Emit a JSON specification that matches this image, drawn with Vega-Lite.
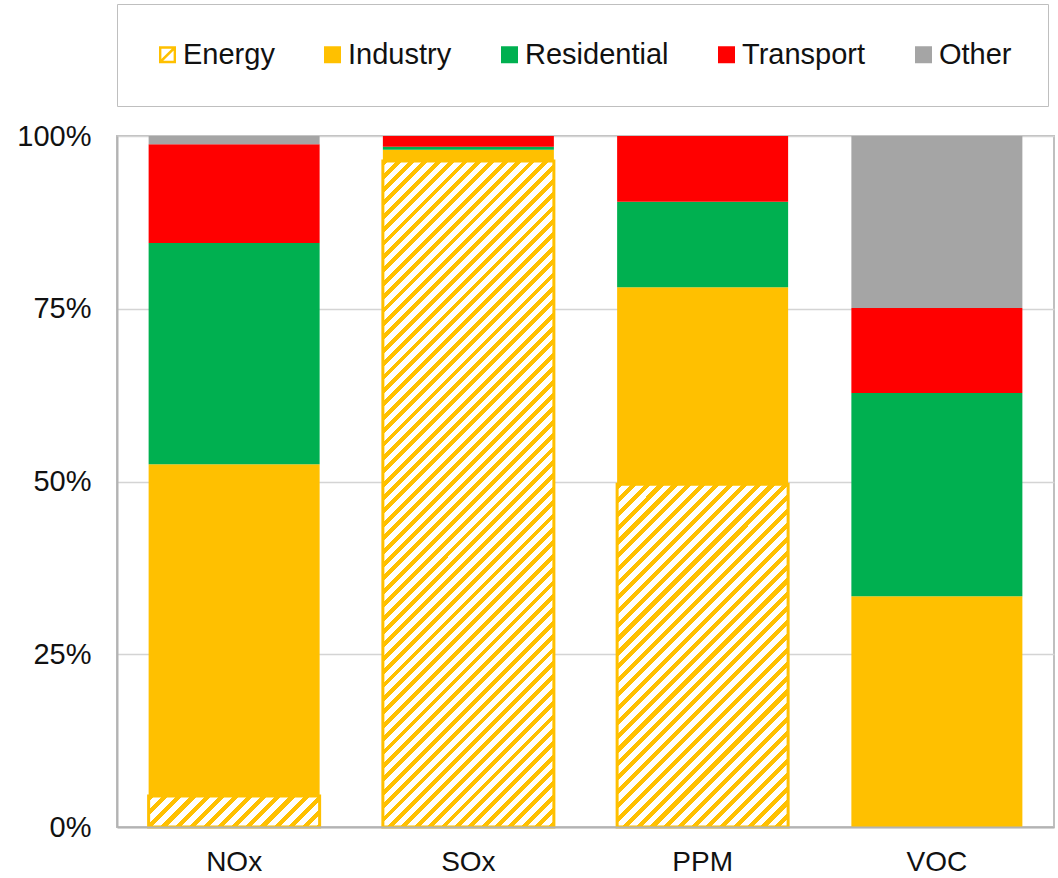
{
  "$schema": "https://vega.github.io/schema/vega-lite/v6.json",
  "width": 937,
  "height": 691,
  "autosize": {"type": "none"},
  "padding": {"left": 117, "top": 136, "right": 4, "bottom": 51},
  "config": {
    "font": "Liberation Sans",
    "view": {"stroke": "#bfbfbf", "strokeWidth": 2}
  },
  "data": {
    "values": [
      {"pollutant": "NOx", "sector": "Energy", "share": 4.5},
      {"pollutant": "NOx", "sector": "Industry", "share": 48.0},
      {"pollutant": "NOx", "sector": "Residential", "share": 32.0},
      {"pollutant": "NOx", "sector": "Transport", "share": 14.3},
      {"pollutant": "NOx", "sector": "Other", "share": 1.2},
      {"pollutant": "SOx", "sector": "Energy", "share": 96.4},
      {"pollutant": "SOx", "sector": "Industry", "share": 1.6},
      {"pollutant": "SOx", "sector": "Residential", "share": 0.45},
      {"pollutant": "SOx", "sector": "Transport", "share": 1.55},
      {"pollutant": "SOx", "sector": "Other", "share": 0},
      {"pollutant": "PPM", "sector": "Energy", "share": 49.6},
      {"pollutant": "PPM", "sector": "Industry", "share": 28.5},
      {"pollutant": "PPM", "sector": "Residential", "share": 12.4},
      {"pollutant": "PPM", "sector": "Transport", "share": 9.5},
      {"pollutant": "PPM", "sector": "Other", "share": 0},
      {"pollutant": "VOC", "sector": "Industry", "share": 33.4},
      {"pollutant": "VOC", "sector": "Residential", "share": 29.4},
      {"pollutant": "VOC", "sector": "Transport", "share": 12.3},
      {"pollutant": "VOC", "sector": "Other", "share": 24.9}
    ]
  },
  "transform": [
    {"calculate": "indexof(['Energy','Industry','Residential','Transport','Other'], datum.sector)", "as": "stackIndex"}
  ],
  "layer": [
    {
      "mark": {"type": "bar"},
      "encoding": {
        "x": {
          "field": "pollutant",
          "type": "nominal",
          "sort": ["NOx", "SOx", "PPM", "VOC"],
          "scale": {"paddingInner": 0.27, "paddingOuter": 0.135},
          "axis": {
            "title": null,
            "labelAngle": 0,
            "labelFontSize": 28,
            "labelColor": "#111111",
            "labelPadding": 21,
            "ticks": false,
            "tickSize": 0,
            "domainColor": "#b3b3b3",
            "domainWidth": 2,
            "grid": false,
            "zindex": 1
          }
        },
        "y": {
          "field": "share",
          "type": "quantitative",
          "stack": "normalize",
          "scale": {"domain": [0, 1]},
          "axis": {
            "title": null,
            "format": ".0%",
            "values": [0, 0.25, 0.5, 0.75, 1],
            "labelFontSize": 29,
            "labelColor": "#111111",
            "labelPadding": 26,
            "ticks": false,
            "tickSize": 0,
            "domainColor": "#b3b3b3",
            "domainWidth": 2,
            "gridColor": "#d4d4d4",
            "gridWidth": 1.5
          }
        },
        "order": {"field": "stackIndex", "type": "quantitative"},
        "fill": {
          "condition": [
            {
              "test": "datum.sector === 'Energy' && datum.pollutant === 'NOx'",
              "value": {
                "gradient": "linear", "x1": 0, "y1": 0, "x2": 1.144, "y2": 0.208,
                "stops": [
                  {"offset":0,"color":"#FFC000"},{"offset":0.03,"color":"#FFC000"},{"offset":0.03,"color":"#ffffff"},{"offset":0.07,"color":"#ffffff"},
                  {"offset":0.07,"color":"#FFC000"},{"offset":0.1,"color":"#FFC000"},{"offset":0.1,"color":"#ffffff"},{"offset":0.14,"color":"#ffffff"},
                  {"offset":0.14,"color":"#FFC000"},{"offset":0.17,"color":"#FFC000"},{"offset":0.17,"color":"#ffffff"},{"offset":0.21,"color":"#ffffff"},
                  {"offset":0.21,"color":"#FFC000"},{"offset":0.24,"color":"#FFC000"},{"offset":0.24,"color":"#ffffff"},{"offset":0.28,"color":"#ffffff"},
                  {"offset":0.28,"color":"#FFC000"},{"offset":0.31,"color":"#FFC000"},{"offset":0.31,"color":"#ffffff"},{"offset":0.35,"color":"#ffffff"},
                  {"offset":0.35,"color":"#FFC000"},{"offset":0.38,"color":"#FFC000"},{"offset":0.38,"color":"#ffffff"},{"offset":0.42,"color":"#ffffff"},
                  {"offset":0.42,"color":"#FFC000"},{"offset":0.45,"color":"#FFC000"},{"offset":0.45,"color":"#ffffff"},{"offset":0.49,"color":"#ffffff"},
                  {"offset":0.49,"color":"#FFC000"},{"offset":0.52,"color":"#FFC000"},{"offset":0.52,"color":"#ffffff"},{"offset":0.56,"color":"#ffffff"},
                  {"offset":0.56,"color":"#FFC000"},{"offset":0.59,"color":"#FFC000"},{"offset":0.59,"color":"#ffffff"},{"offset":0.63,"color":"#ffffff"},
                  {"offset":0.63,"color":"#FFC000"},{"offset":0.66,"color":"#FFC000"},{"offset":0.66,"color":"#ffffff"},{"offset":0.7,"color":"#ffffff"},
                  {"offset":0.7,"color":"#FFC000"},{"offset":0.73,"color":"#FFC000"},{"offset":0.73,"color":"#ffffff"},{"offset":0.77,"color":"#ffffff"},
                  {"offset":0.77,"color":"#FFC000"},{"offset":0.8,"color":"#FFC000"},{"offset":0.8,"color":"#ffffff"},{"offset":0.84,"color":"#ffffff"},
                  {"offset":0.84,"color":"#FFC000"},{"offset":0.87,"color":"#FFC000"},{"offset":0.87,"color":"#ffffff"},{"offset":0.91,"color":"#ffffff"},
                  {"offset":0.91,"color":"#FFC000"},{"offset":0.94,"color":"#FFC000"},{"offset":0.94,"color":"#ffffff"},{"offset":0.98,"color":"#ffffff"},
                  {"offset":0.98,"color":"#FFC000"},{"offset":1,"color":"#FFC000"}
                ]
              }
            },
            {
              "test": "datum.sector === 'Energy' && datum.pollutant === 'SOx'",
              "value": {
                "gradient": "linear", "x1": 0, "y1": 0, "x2": 0.3027, "y2": 1.179,
                "stops": [
                  {"offset":0,"color":"#FFC000"},{"offset":0.007,"color":"#FFC000"},{"offset":0.007,"color":"#ffffff"},{"offset":0.016,"color":"#ffffff"},
                  {"offset":0.016,"color":"#FFC000"},{"offset":0.023,"color":"#FFC000"},{"offset":0.023,"color":"#ffffff"},{"offset":0.032,"color":"#ffffff"},
                  {"offset":0.032,"color":"#FFC000"},{"offset":0.039,"color":"#FFC000"},{"offset":0.039,"color":"#ffffff"},{"offset":0.048,"color":"#ffffff"},
                  {"offset":0.048,"color":"#FFC000"},{"offset":0.055,"color":"#FFC000"},{"offset":0.055,"color":"#ffffff"},{"offset":0.064,"color":"#ffffff"},
                  {"offset":0.064,"color":"#FFC000"},{"offset":0.071,"color":"#FFC000"},{"offset":0.071,"color":"#ffffff"},{"offset":0.08,"color":"#ffffff"},
                  {"offset":0.08,"color":"#FFC000"},{"offset":0.087,"color":"#FFC000"},{"offset":0.087,"color":"#ffffff"},{"offset":0.096,"color":"#ffffff"},
                  {"offset":0.096,"color":"#FFC000"},{"offset":0.103,"color":"#FFC000"},{"offset":0.103,"color":"#ffffff"},{"offset":0.112,"color":"#ffffff"},
                  {"offset":0.112,"color":"#FFC000"},{"offset":0.119,"color":"#FFC000"},{"offset":0.119,"color":"#ffffff"},{"offset":0.128,"color":"#ffffff"},
                  {"offset":0.128,"color":"#FFC000"},{"offset":0.135,"color":"#FFC000"},{"offset":0.135,"color":"#ffffff"},{"offset":0.144,"color":"#ffffff"},
                  {"offset":0.144,"color":"#FFC000"},{"offset":0.151,"color":"#FFC000"},{"offset":0.151,"color":"#ffffff"},{"offset":0.16,"color":"#ffffff"},
                  {"offset":0.16,"color":"#FFC000"},{"offset":0.167,"color":"#FFC000"},{"offset":0.167,"color":"#ffffff"},{"offset":0.176,"color":"#ffffff"},
                  {"offset":0.176,"color":"#FFC000"},{"offset":0.183,"color":"#FFC000"},{"offset":0.183,"color":"#ffffff"},{"offset":0.192,"color":"#ffffff"},
                  {"offset":0.192,"color":"#FFC000"},{"offset":0.199,"color":"#FFC000"},{"offset":0.199,"color":"#ffffff"},{"offset":0.208,"color":"#ffffff"},
                  {"offset":0.208,"color":"#FFC000"},{"offset":0.215,"color":"#FFC000"},{"offset":0.215,"color":"#ffffff"},{"offset":0.224,"color":"#ffffff"},
                  {"offset":0.224,"color":"#FFC000"},{"offset":0.231,"color":"#FFC000"},{"offset":0.231,"color":"#ffffff"},{"offset":0.24,"color":"#ffffff"},
                  {"offset":0.24,"color":"#FFC000"},{"offset":0.247,"color":"#FFC000"},{"offset":0.247,"color":"#ffffff"},{"offset":0.256,"color":"#ffffff"},
                  {"offset":0.256,"color":"#FFC000"},{"offset":0.263,"color":"#FFC000"},{"offset":0.263,"color":"#ffffff"},{"offset":0.272,"color":"#ffffff"},
                  {"offset":0.272,"color":"#FFC000"},{"offset":0.279,"color":"#FFC000"},{"offset":0.279,"color":"#ffffff"},{"offset":0.288,"color":"#ffffff"},
                  {"offset":0.288,"color":"#FFC000"},{"offset":0.295,"color":"#FFC000"},{"offset":0.295,"color":"#ffffff"},{"offset":0.304,"color":"#ffffff"},
                  {"offset":0.304,"color":"#FFC000"},{"offset":0.311,"color":"#FFC000"},{"offset":0.311,"color":"#ffffff"},{"offset":0.32,"color":"#ffffff"},
                  {"offset":0.32,"color":"#FFC000"},{"offset":0.327,"color":"#FFC000"},{"offset":0.327,"color":"#ffffff"},{"offset":0.336,"color":"#ffffff"},
                  {"offset":0.336,"color":"#FFC000"},{"offset":0.343,"color":"#FFC000"},{"offset":0.343,"color":"#ffffff"},{"offset":0.352,"color":"#ffffff"},
                  {"offset":0.352,"color":"#FFC000"},{"offset":0.359,"color":"#FFC000"},{"offset":0.359,"color":"#ffffff"},{"offset":0.368,"color":"#ffffff"},
                  {"offset":0.368,"color":"#FFC000"},{"offset":0.375,"color":"#FFC000"},{"offset":0.375,"color":"#ffffff"},{"offset":0.384,"color":"#ffffff"},
                  {"offset":0.384,"color":"#FFC000"},{"offset":0.391,"color":"#FFC000"},{"offset":0.391,"color":"#ffffff"},{"offset":0.4,"color":"#ffffff"},
                  {"offset":0.4,"color":"#FFC000"},{"offset":0.407,"color":"#FFC000"},{"offset":0.407,"color":"#ffffff"},{"offset":0.416,"color":"#ffffff"},
                  {"offset":0.416,"color":"#FFC000"},{"offset":0.423,"color":"#FFC000"},{"offset":0.423,"color":"#ffffff"},{"offset":0.432,"color":"#ffffff"},
                  {"offset":0.432,"color":"#FFC000"},{"offset":0.439,"color":"#FFC000"},{"offset":0.439,"color":"#ffffff"},{"offset":0.448,"color":"#ffffff"},
                  {"offset":0.448,"color":"#FFC000"},{"offset":0.455,"color":"#FFC000"},{"offset":0.455,"color":"#ffffff"},{"offset":0.464,"color":"#ffffff"},
                  {"offset":0.464,"color":"#FFC000"},{"offset":0.471,"color":"#FFC000"},{"offset":0.471,"color":"#ffffff"},{"offset":0.48,"color":"#ffffff"},
                  {"offset":0.48,"color":"#FFC000"},{"offset":0.487,"color":"#FFC000"},{"offset":0.487,"color":"#ffffff"},{"offset":0.496,"color":"#ffffff"},
                  {"offset":0.496,"color":"#FFC000"},{"offset":0.503,"color":"#FFC000"},{"offset":0.503,"color":"#ffffff"},{"offset":0.512,"color":"#ffffff"},
                  {"offset":0.512,"color":"#FFC000"},{"offset":0.519,"color":"#FFC000"},{"offset":0.519,"color":"#ffffff"},{"offset":0.528,"color":"#ffffff"},
                  {"offset":0.528,"color":"#FFC000"},{"offset":0.535,"color":"#FFC000"},{"offset":0.535,"color":"#ffffff"},{"offset":0.544,"color":"#ffffff"},
                  {"offset":0.544,"color":"#FFC000"},{"offset":0.551,"color":"#FFC000"},{"offset":0.551,"color":"#ffffff"},{"offset":0.56,"color":"#ffffff"},
                  {"offset":0.56,"color":"#FFC000"},{"offset":0.567,"color":"#FFC000"},{"offset":0.567,"color":"#ffffff"},{"offset":0.576,"color":"#ffffff"},
                  {"offset":0.576,"color":"#FFC000"},{"offset":0.583,"color":"#FFC000"},{"offset":0.583,"color":"#ffffff"},{"offset":0.592,"color":"#ffffff"},
                  {"offset":0.592,"color":"#FFC000"},{"offset":0.599,"color":"#FFC000"},{"offset":0.599,"color":"#ffffff"},{"offset":0.608,"color":"#ffffff"},
                  {"offset":0.608,"color":"#FFC000"},{"offset":0.615,"color":"#FFC000"},{"offset":0.615,"color":"#ffffff"},{"offset":0.624,"color":"#ffffff"},
                  {"offset":0.624,"color":"#FFC000"},{"offset":0.631,"color":"#FFC000"},{"offset":0.631,"color":"#ffffff"},{"offset":0.64,"color":"#ffffff"},
                  {"offset":0.64,"color":"#FFC000"},{"offset":0.647,"color":"#FFC000"},{"offset":0.647,"color":"#ffffff"},{"offset":0.656,"color":"#ffffff"},
                  {"offset":0.656,"color":"#FFC000"},{"offset":0.663,"color":"#FFC000"},{"offset":0.663,"color":"#ffffff"},{"offset":0.672,"color":"#ffffff"},
                  {"offset":0.672,"color":"#FFC000"},{"offset":0.679,"color":"#FFC000"},{"offset":0.679,"color":"#ffffff"},{"offset":0.688,"color":"#ffffff"},
                  {"offset":0.688,"color":"#FFC000"},{"offset":0.695,"color":"#FFC000"},{"offset":0.695,"color":"#ffffff"},{"offset":0.704,"color":"#ffffff"},
                  {"offset":0.704,"color":"#FFC000"},{"offset":0.711,"color":"#FFC000"},{"offset":0.711,"color":"#ffffff"},{"offset":0.72,"color":"#ffffff"},
                  {"offset":0.72,"color":"#FFC000"},{"offset":0.727,"color":"#FFC000"},{"offset":0.727,"color":"#ffffff"},{"offset":0.736,"color":"#ffffff"},
                  {"offset":0.736,"color":"#FFC000"},{"offset":0.743,"color":"#FFC000"},{"offset":0.743,"color":"#ffffff"},{"offset":0.752,"color":"#ffffff"},
                  {"offset":0.752,"color":"#FFC000"},{"offset":0.759,"color":"#FFC000"},{"offset":0.759,"color":"#ffffff"},{"offset":0.768,"color":"#ffffff"},
                  {"offset":0.768,"color":"#FFC000"},{"offset":0.775,"color":"#FFC000"},{"offset":0.775,"color":"#ffffff"},{"offset":0.784,"color":"#ffffff"},
                  {"offset":0.784,"color":"#FFC000"},{"offset":0.791,"color":"#FFC000"},{"offset":0.791,"color":"#ffffff"},{"offset":0.8,"color":"#ffffff"},
                  {"offset":0.8,"color":"#FFC000"},{"offset":0.807,"color":"#FFC000"},{"offset":0.807,"color":"#ffffff"},{"offset":0.816,"color":"#ffffff"},
                  {"offset":0.816,"color":"#FFC000"},{"offset":0.823,"color":"#FFC000"},{"offset":0.823,"color":"#ffffff"},{"offset":0.832,"color":"#ffffff"},
                  {"offset":0.832,"color":"#FFC000"},{"offset":0.839,"color":"#FFC000"},{"offset":0.839,"color":"#ffffff"},{"offset":0.848,"color":"#ffffff"},
                  {"offset":0.848,"color":"#FFC000"},{"offset":0.855,"color":"#FFC000"},{"offset":0.855,"color":"#ffffff"},{"offset":0.864,"color":"#ffffff"},
                  {"offset":0.864,"color":"#FFC000"},{"offset":0.871,"color":"#FFC000"},{"offset":0.871,"color":"#ffffff"},{"offset":0.88,"color":"#ffffff"},
                  {"offset":0.88,"color":"#FFC000"},{"offset":0.887,"color":"#FFC000"},{"offset":0.887,"color":"#ffffff"},{"offset":0.896,"color":"#ffffff"},
                  {"offset":0.896,"color":"#FFC000"},{"offset":0.903,"color":"#FFC000"},{"offset":0.903,"color":"#ffffff"},{"offset":0.912,"color":"#ffffff"},
                  {"offset":0.912,"color":"#FFC000"},{"offset":0.919,"color":"#FFC000"},{"offset":0.919,"color":"#ffffff"},{"offset":0.928,"color":"#ffffff"},
                  {"offset":0.928,"color":"#FFC000"},{"offset":0.935,"color":"#FFC000"},{"offset":0.935,"color":"#ffffff"},{"offset":0.944,"color":"#ffffff"},
                  {"offset":0.944,"color":"#FFC000"},{"offset":0.951,"color":"#FFC000"},{"offset":0.951,"color":"#ffffff"},{"offset":0.96,"color":"#ffffff"},
                  {"offset":0.96,"color":"#FFC000"},{"offset":0.967,"color":"#FFC000"},{"offset":0.967,"color":"#ffffff"},{"offset":0.976,"color":"#ffffff"},
                  {"offset":0.976,"color":"#FFC000"},{"offset":0.983,"color":"#FFC000"},{"offset":0.983,"color":"#ffffff"},{"offset":0.992,"color":"#ffffff"},
                  {"offset":0.992,"color":"#FFC000"},{"offset":0.999,"color":"#FFC000"},{"offset":0.999,"color":"#ffffff"},{"offset":1,"color":"#ffffff"}
                ]
              }
            },
            {
              "test": "datum.sector === 'Energy' && datum.pollutant === 'PPM'",
              "value": {
                "gradient": "linear", "x1": 0, "y1": 0, "x2": 0.5989, "y2": 1.2002,
                "stops": [
                  {"offset":0,"color":"#FFC000"},{"offset":0.012,"color":"#FFC000"},{"offset":0.012,"color":"#ffffff"},{"offset":0.027,"color":"#ffffff"},
                  {"offset":0.027,"color":"#FFC000"},{"offset":0.039,"color":"#FFC000"},{"offset":0.039,"color":"#ffffff"},{"offset":0.054,"color":"#ffffff"},
                  {"offset":0.054,"color":"#FFC000"},{"offset":0.066,"color":"#FFC000"},{"offset":0.066,"color":"#ffffff"},{"offset":0.081,"color":"#ffffff"},
                  {"offset":0.081,"color":"#FFC000"},{"offset":0.093,"color":"#FFC000"},{"offset":0.093,"color":"#ffffff"},{"offset":0.108,"color":"#ffffff"},
                  {"offset":0.108,"color":"#FFC000"},{"offset":0.12,"color":"#FFC000"},{"offset":0.12,"color":"#ffffff"},{"offset":0.135,"color":"#ffffff"},
                  {"offset":0.135,"color":"#FFC000"},{"offset":0.147,"color":"#FFC000"},{"offset":0.147,"color":"#ffffff"},{"offset":0.162,"color":"#ffffff"},
                  {"offset":0.162,"color":"#FFC000"},{"offset":0.174,"color":"#FFC000"},{"offset":0.174,"color":"#ffffff"},{"offset":0.189,"color":"#ffffff"},
                  {"offset":0.189,"color":"#FFC000"},{"offset":0.201,"color":"#FFC000"},{"offset":0.201,"color":"#ffffff"},{"offset":0.216,"color":"#ffffff"},
                  {"offset":0.216,"color":"#FFC000"},{"offset":0.228,"color":"#FFC000"},{"offset":0.228,"color":"#ffffff"},{"offset":0.243,"color":"#ffffff"},
                  {"offset":0.243,"color":"#FFC000"},{"offset":0.255,"color":"#FFC000"},{"offset":0.255,"color":"#ffffff"},{"offset":0.27,"color":"#ffffff"},
                  {"offset":0.27,"color":"#FFC000"},{"offset":0.282,"color":"#FFC000"},{"offset":0.282,"color":"#ffffff"},{"offset":0.297,"color":"#ffffff"},
                  {"offset":0.297,"color":"#FFC000"},{"offset":0.309,"color":"#FFC000"},{"offset":0.309,"color":"#ffffff"},{"offset":0.324,"color":"#ffffff"},
                  {"offset":0.324,"color":"#FFC000"},{"offset":0.336,"color":"#FFC000"},{"offset":0.336,"color":"#ffffff"},{"offset":0.351,"color":"#ffffff"},
                  {"offset":0.351,"color":"#FFC000"},{"offset":0.363,"color":"#FFC000"},{"offset":0.363,"color":"#ffffff"},{"offset":0.378,"color":"#ffffff"},
                  {"offset":0.378,"color":"#FFC000"},{"offset":0.39,"color":"#FFC000"},{"offset":0.39,"color":"#ffffff"},{"offset":0.405,"color":"#ffffff"},
                  {"offset":0.405,"color":"#FFC000"},{"offset":0.417,"color":"#FFC000"},{"offset":0.417,"color":"#ffffff"},{"offset":0.432,"color":"#ffffff"},
                  {"offset":0.432,"color":"#FFC000"},{"offset":0.444,"color":"#FFC000"},{"offset":0.444,"color":"#ffffff"},{"offset":0.459,"color":"#ffffff"},
                  {"offset":0.459,"color":"#FFC000"},{"offset":0.471,"color":"#FFC000"},{"offset":0.471,"color":"#ffffff"},{"offset":0.486,"color":"#ffffff"},
                  {"offset":0.486,"color":"#FFC000"},{"offset":0.498,"color":"#FFC000"},{"offset":0.498,"color":"#ffffff"},{"offset":0.513,"color":"#ffffff"},
                  {"offset":0.513,"color":"#FFC000"},{"offset":0.525,"color":"#FFC000"},{"offset":0.525,"color":"#ffffff"},{"offset":0.54,"color":"#ffffff"},
                  {"offset":0.54,"color":"#FFC000"},{"offset":0.552,"color":"#FFC000"},{"offset":0.552,"color":"#ffffff"},{"offset":0.567,"color":"#ffffff"},
                  {"offset":0.567,"color":"#FFC000"},{"offset":0.579,"color":"#FFC000"},{"offset":0.579,"color":"#ffffff"},{"offset":0.594,"color":"#ffffff"},
                  {"offset":0.594,"color":"#FFC000"},{"offset":0.606,"color":"#FFC000"},{"offset":0.606,"color":"#ffffff"},{"offset":0.621,"color":"#ffffff"},
                  {"offset":0.621,"color":"#FFC000"},{"offset":0.633,"color":"#FFC000"},{"offset":0.633,"color":"#ffffff"},{"offset":0.648,"color":"#ffffff"},
                  {"offset":0.648,"color":"#FFC000"},{"offset":0.66,"color":"#FFC000"},{"offset":0.66,"color":"#ffffff"},{"offset":0.675,"color":"#ffffff"},
                  {"offset":0.675,"color":"#FFC000"},{"offset":0.687,"color":"#FFC000"},{"offset":0.687,"color":"#ffffff"},{"offset":0.702,"color":"#ffffff"},
                  {"offset":0.702,"color":"#FFC000"},{"offset":0.714,"color":"#FFC000"},{"offset":0.714,"color":"#ffffff"},{"offset":0.729,"color":"#ffffff"},
                  {"offset":0.729,"color":"#FFC000"},{"offset":0.741,"color":"#FFC000"},{"offset":0.741,"color":"#ffffff"},{"offset":0.756,"color":"#ffffff"},
                  {"offset":0.756,"color":"#FFC000"},{"offset":0.768,"color":"#FFC000"},{"offset":0.768,"color":"#ffffff"},{"offset":0.783,"color":"#ffffff"},
                  {"offset":0.783,"color":"#FFC000"},{"offset":0.795,"color":"#FFC000"},{"offset":0.795,"color":"#ffffff"},{"offset":0.81,"color":"#ffffff"},
                  {"offset":0.81,"color":"#FFC000"},{"offset":0.822,"color":"#FFC000"},{"offset":0.822,"color":"#ffffff"},{"offset":0.837,"color":"#ffffff"},
                  {"offset":0.837,"color":"#FFC000"},{"offset":0.849,"color":"#FFC000"},{"offset":0.849,"color":"#ffffff"},{"offset":0.864,"color":"#ffffff"},
                  {"offset":0.864,"color":"#FFC000"},{"offset":0.876,"color":"#FFC000"},{"offset":0.876,"color":"#ffffff"},{"offset":0.891,"color":"#ffffff"},
                  {"offset":0.891,"color":"#FFC000"},{"offset":0.903,"color":"#FFC000"},{"offset":0.903,"color":"#ffffff"},{"offset":0.918,"color":"#ffffff"},
                  {"offset":0.918,"color":"#FFC000"},{"offset":0.93,"color":"#FFC000"},{"offset":0.93,"color":"#ffffff"},{"offset":0.945,"color":"#ffffff"},
                  {"offset":0.945,"color":"#FFC000"},{"offset":0.957,"color":"#FFC000"},{"offset":0.957,"color":"#ffffff"},{"offset":0.972,"color":"#ffffff"},
                  {"offset":0.972,"color":"#FFC000"},{"offset":0.984,"color":"#FFC000"},{"offset":0.984,"color":"#ffffff"},{"offset":1,"color":"#ffffff"}
                ]
              }
            }
          ],
          "field": "sector",
          "type": "nominal",
          "scale": {
            "domain": ["Energy", "Industry", "Residential", "Transport", "Other"],
            "range": ["#FFC000", "#FFC000", "#00B050", "#FF0000", "#A5A5A5"]
          },
          "legend": {
            "title": null,
            "orient": "none",
            "legendX": 0,
            "legendY": -132,
            "direction": "horizontal",
            "padding": 36,
            "strokeColor": "#bfbfbf",
            "labelFontSize": 29,
            "labelColor": "#111111",
            "labelOffset": 1,
            "columnPadding": 43,
            "symbolType": "square",
            "symbolSize": 289,
            "symbolStrokeWidth": 0
          }
        },
        "stroke": {
          "condition": {"test": "datum.sector === 'Energy'", "value": "#FFC000"},
          "value": "transparent"
        },
        "strokeWidth": {
          "condition": {"test": "datum.sector === 'Energy'", "value": 3},
          "value": 0
        }
      }
    },
    {
      "transform": [{"filter": "false"}],
      "mark": {"type": "point", "filled": true},
      "encoding": {
        "fill": {"field": "sector", "type": "nominal"},
        "shape": {
          "field": "sector",
          "type": "nominal",
          "scale": {
            "domain": ["Energy", "Industry", "Residential", "Transport", "Other"],
            "range": [
              "M-1,-1H1V1H-1Z M-0.72,-0.72V0.72H0.72V-0.72Z M-0.72,0.5L0.5,-0.72H0.72V-0.5L-0.5,0.72H-0.72Z",
              "square", "square", "square", "square"
            ]
          },
          "legend": {
            "title": null,
            "orient": "none",
            "legendX": 0,
            "legendY": -132,
            "direction": "horizontal",
            "padding": 36,
            "strokeColor": "#bfbfbf",
            "labelFontSize": 29,
            "labelColor": "#111111",
            "labelOffset": 1,
            "columnPadding": 43,
            "symbolSize": 289,
            "symbolStrokeWidth": 0
          }
        }
      }
    }
  ]
}
